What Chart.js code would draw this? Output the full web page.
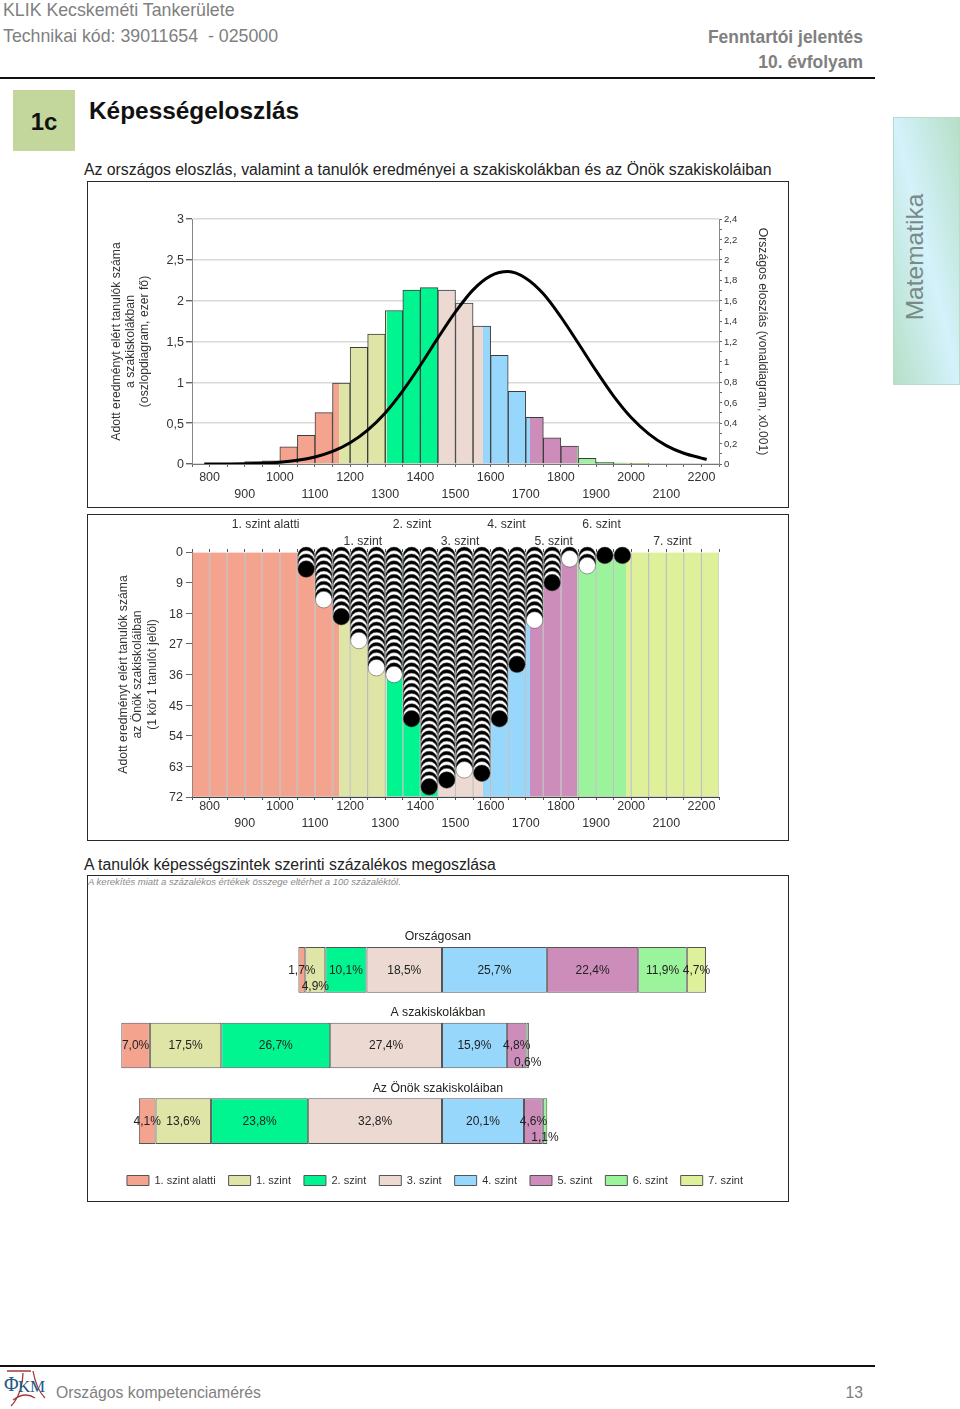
<!DOCTYPE html>
<html>
<head>
<meta charset="utf-8">
<title>Képességeloszlás</title>
<script src="https://cdn.jsdelivr.net/npm/chart.js@4"></script>
<style>
  html, body { margin: 0; padding: 0; background: #fff; }
  body { position: relative; width: 960px; height: 1409px; overflow: hidden; font-family: "Liberation Sans", Arial, sans-serif; }
  .t { position: absolute; white-space: pre; line-height: 20px; }
  .grey { color: #808080; font-size: 17.75px; }
  .right { right: 97px; font-weight: bold; font-size: 17.45px; }
  .rule { position: absolute; left: 0; width: 875px; height: 2px; background: #111; }
  .box { position: absolute; left: 87px; width: 700px; height: 325px; border: 1px solid #2a2a2a; }
  canvas { position: absolute; left: 88px; }
  #tab { position: absolute; left: 893px; top: 117px; width: 67px; height: 268px; box-sizing: border-box; border: 1px solid #b7dcc8;
    background: linear-gradient(to top right, #b6dfc7 0%, #d4f2fb 50%, #b6dfc7 100%); }
  #tabText { position: absolute; left: 915px; top: 257px; transform: translate(-50%, -50%) rotate(-90deg); font-size: 24.5px; color: #7b8a86; white-space: pre; }
</style>
</head>
<body>
<div class="t grey" style="left:3px;top:0px">KLIK Kecskeméti Tankerülete</div>
<div class="t grey" style="left:3px;top:26px">Technikai kód: 39011654  - 025000</div>
<div class="t grey right" style="top:27px">Fenntartói jelentés</div>
<div class="t grey right" style="top:52px">10. évfolyam</div>
<div class="rule" style="top:77px"></div>

<div style="position:absolute;left:13px;top:90px;width:62px;height:61px;background:#c3d69b"></div>
<div class="t" style="left:13px;width:62px;text-align:center;top:111px;line-height:22px;font-size:24px;font-weight:bold;color:#111">1c</div>
<div class="t" style="left:89px;top:100px;line-height:22px;font-size:24.4px;font-weight:bold;color:#111">Képességeloszlás</div>
<div class="t" style="left:84px;top:160px;font-size:15.8px;color:#222">Az országos eloszlás, valamint a tanulók eredményei a szakiskolákban és az Önök szakiskoláiban</div>

<div id="tab"></div>
<div id="tabText">Matematika</div>

<div class="box" style="top:181px"></div>
<canvas id="distChart" width="700" height="324" style="top:182px"></canvas>

<div class="box" style="top:514px"></div>
<canvas id="dotChart" width="700" height="324" style="top:515px"></canvas>

<div class="t" style="left:84px;top:855px;font-size:15.8px;color:#222">A tanulók képességszintek szerinti százalékos megoszlása</div>
<div class="box" style="top:875px"></div>
<div class="t" style="left:88px;top:872px;font-size:9.5px;font-style:italic;color:#8a8a8a">A kerekítés miatt a százalékos értékek összege eltérhet a 100 százaléktól.</div>
<canvas id="shareChart" width="700" height="324" style="top:876px"></canvas>

<div class="rule" style="top:1365px"></div>
<svg style="position:absolute;left:3px;top:1370px" width="48" height="38" viewBox="0 0 48 38">
  <path d="M4 1 H28 M10 30 C18 24 26 24 32 28 M8 36 C16 28 20 14 20 3 M30 1 C32 12 36 22 42 28" fill="none" stroke="#a33a3a" stroke-width="1.3"/>
  <text x="1" y="21" font-family="Liberation Serif" font-size="20" fill="#1d5a86">Φ</text>
  <text x="15" y="22" font-family="Liberation Serif" font-size="17" fill="#1d5a86">K</text>
  <text x="27" y="22" font-family="Liberation Serif" font-size="17" fill="#1d5a86">M</text>
</svg>
<div class="t" style="left:56px;top:1383px;font-size:15.75px;color:#808080">Országos kompetenciamérés</div>
<div class="t" style="right:97px;top:1383px;font-size:15.75px;color:#808080">13</div>

<script>
// szintek (level names, colours and where each one ends on the score axis)
const levelNames = ['1. szint alatti', '1. szint', '2. szint', '3. szint', '4. szint', '5. szint', '6. szint', '7. szint'];
const levelColors = ['#f4a48e', '#dfe5a6', '#00f590', '#ebd9d2', '#97d7fb', '#cc8dbb', '#9bf39b', '#def09a'];
const levelEdges = [750, 1169, 1304, 1449, 1577, 1713, 1846, 1985, 2250];

// score axis labels, two rows
const xTicksUpper = [800, 1000, 1200, 1400, 1600, 1800, 2000, 2200];
const xTicksLower = [900, 1100, 1300, 1500, 1700, 1900, 2100];

// oszlopdiagram: thousands of students per 50 point bin
const binCenters = [825, 875, 925, 975, 1025, 1075, 1125, 1175, 1225, 1275, 1325, 1375, 1425, 1475, 1525, 1575, 1625, 1675, 1725, 1775, 1825, 1875, 1925, 1975, 2025];
const binValues = [0.003, 0.005, 0.03, 0.04, 0.21, 0.35, 0.63, 0.99, 1.43, 1.59, 1.88, 2.13, 2.16, 2.13, 1.97, 1.69, 1.33, 0.89, 0.57, 0.32, 0.22, 0.07, 0.02, 0.012, 0.004];

// vonaldiagram: national distribution (x0.001)
const curveX = [785, 850, 900, 950, 1000, 1050, 1100, 1150, 1200, 1250, 1300, 1350, 1400, 1450, 1500, 1550, 1600, 1650, 1700, 1750, 1800, 1850, 1900, 1950, 2000, 2050, 2100, 2150, 2200, 2215];
const curveY = [0, 0.001, 0.003, 0.008, 0.017, 0.036, 0.069, 0.123, 0.208, 0.332, 0.5, 0.716, 0.967, 1.235, 1.49, 1.706, 1.843, 1.885, 1.82, 1.667, 1.44, 1.18, 0.914, 0.665, 0.455, 0.295, 0.18, 0.105, 0.058, 0.045];

// egy kör egy tanuló: students per bin in the school's own chart
const dotBins = [1075, 1125, 1175, 1225, 1275, 1325, 1375, 1425, 1475, 1525, 1575, 1625, 1675, 1725, 1775, 1825, 1875, 1925, 1975];
const dotCounts = [5, 14, 19, 26, 34, 36, 49, 69, 67, 64, 65, 49, 33, 20, 9, 2, 4, 1, 1];
const bandBins = [775, 825, 875, 925, 975, 1025, 1075, 1125, 1175, 1225, 1275, 1325, 1375, 1425, 1475, 1525, 1575, 1625, 1675, 1725, 1775, 1825, 1875, 1925, 1975, 2025, 2075, 2125, 2175, 2225];

// százalékos megoszlás, one array per group, in level order
const groupNames = ['Országosan', 'A szakiskolákban', 'Az Önök szakiskoláiban'];
const sharesNational = [1.7, 4.9, 10.1, 18.5, 25.7, 22.4, 11.9, 4.7];
const sharesSchools = [7.0, 17.5, 26.7, 27.4, 15.9, 4.8, 0.6, 0];
const sharesOurs = [4.1, 13.6, 23.8, 32.8, 20.1, 4.6, 1.1, 0];
const loweredLabels = ['0-1', '1-6', '2-6']; // group-level pairs whose label sits under the row

Chart.defaults.font.family = '"Liberation Sans", Arial, sans-serif';
Chart.defaults.color = '#333';
Chart.defaults.animation = false;
Chart.defaults.responsive = false;

const comma = v => String(Math.round(v * 10) / 10).replace('.', ',');

// hard edged colour bands across the score axis
function bandFill(ctx) {
  const chart = ctx.chart;
  if (!chart.chartArea) return levelColors[0];
  const s = chart.scales.x;
  const g = chart.ctx.createLinearGradient(s.left, 0, s.right, 0);
  levelColors.forEach((c, i) => {
    g.addColorStop((levelEdges[i] - s.min) / (s.max - s.min), c);
    g.addColorStop((levelEdges[i + 1] - s.min) / (s.max - s.min), c);
  });
  return g;
}

function scoreTick(v) {
  if (xTicksUpper.includes(v)) return [String(v), ''];
  if (xTicksLower.includes(v)) return ['', String(v)];
  return '';
}

// 1. eloszlás
new Chart(document.getElementById('distChart'), {
  data: {
    datasets: [{
      type: 'bar',
      order: 2,
      xAxisID: 'x',
      yAxisID: 'y',
      data: binCenters.map((x, i) => ({ x: x, y: binValues[i] })),
      backgroundColor: bandFill,
      borderColor: '#3c3c3c',
      borderWidth: 1,
      barPercentage: 1,
      categoryPercentage: 1
    }, {
      type: 'line',
      order: 1,
      xAxisID: 'x',
      yAxisID: 'y1',
      data: curveX.map((x, i) => ({ x: x, y: curveY[i] })),
      borderColor: '#000',
      borderWidth: 3,
      pointRadius: 0,
      cubicInterpolationMode: 'monotone'
    }]
  },
  options: {
    layout: { padding: { left: 22, top: 37, right: 19, bottom: 0 } },
    plugins: { legend: { display: false }, tooltip: { enabled: false } },
    scales: {
      x: {
        type: 'linear', min: 750, max: 2250, offset: false,
        afterFit: s => { s.height = 42; },
        border: { color: '#777' },
        grid: { offset: false, drawOnChartArea: false, tickLength: 3, color: '#666' },
        ticks: { stepSize: 50, autoSkip: false, maxRotation: 0, padding: 2, callback: scoreTick, font: { size: 12.5, lineHeight: 1.36 } }
      },
      y: {
        min: 0, max: 3,
        afterFit: s => { s.width = 82; },
        border: { color: '#888' },
        grid: { color: '#d9d9d9', lineWidth: 1.4, tickColor: '#666', tickLength: 6 },
        ticks: { stepSize: 0.5, padding: 2, labelOffset: 1, callback: comma, font: { size: 12.5 } },
        title: { display: true, padding: 0, text: ['Adott eredményt elért tanulók száma', 'a szakiskolákban', '(oszlopdiagram, ezer fő)'], font: { size: 12.2, lineHeight: 1.15 } }
      },
      y1: {
        position: 'right', min: 0, max: 2.4,
        afterFit: s => { s.width = 50; },
        border: { color: '#888' },
        grid: { drawOnChartArea: false, tickLength: 3, color: '#666' },
        ticks: { stepSize: 0.1, autoSkip: false, padding: 2, labelOffset: 0.5, font: { size: 9.5 }, callback: v => Math.round(v * 10) % 2 === 0 ? comma(v) : '' },
        title: { display: true, padding: 0, text: 'Országos eloszlás (vonaldiagram, x0.001)', font: { size: 12.2, lineHeight: 1.15 } }
      }
    }
  }
});

// 2. az Önök tanulói, one circle per student stacked down from the top
const dots = [];
dotBins.forEach((x, i) => {
  for (let n = 1; n <= dotCounts[i]; n++) dots.push({ x: x, y: n });
});
const levelCenters = levelNames.map((_, i) => (levelEdges[i] + levelEdges[i + 1]) / 2);

new Chart(document.getElementById('dotChart'), {
  data: {
    datasets: [{
      type: 'bar',
      order: 2,
      xAxisID: 'x',
      yAxisID: 'y',
      data: bandBins.map(x => ({ x: x, y: 72 })),
      backgroundColor: bandFill,
      borderColor: 'rgba(110,110,110,0.35)',
      borderWidth: 1,
      barPercentage: 1,
      categoryPercentage: 1
    }, {
      type: 'scatter',
      order: 1,
      clip: false,
      xAxisID: 'x',
      yAxisID: 'y',
      data: dots,
      pointRadius: 8.3,
      pointBorderWidth: 0.5,
      pointBorderColor: '#444',
      pointBackgroundColor: ctx => ctx.raw && ctx.raw.y % 2 === 0 ? '#fff' : '#000'
    }]
  },
  options: {
    layout: { padding: { left: 28, top: 0, right: 69, bottom: 0 } },
    plugins: { legend: { display: false }, tooltip: { enabled: false } },
    scales: {
      x: {
        type: 'linear', min: 750, max: 2250, offset: false,
        afterFit: s => { s.height = 42; },
        border: { color: '#444' },
        grid: { offset: false, drawOnChartArea: false, tickLength: 3, color: '#555' },
        ticks: { stepSize: 50, autoSkip: false, maxRotation: 0, padding: -2, callback: scoreTick, font: { size: 12.5, lineHeight: 1.36 } }
      },
      levels: {
        type: 'linear', position: 'top', axis: 'x', min: 750, max: 2250, offset: false,
        afterFit: s => { s.height = 37; },
        afterBuildTicks: s => {
          const marks = bandBins.map(x => x - 25).concat([2250], levelCenters);
          s.ticks = marks.sort((a, b) => a - b).map(v => ({ value: v }));
        },
        border: { display: false },
        grid: { offset: false, drawOnChartArea: false, tickLength: 3, tickColor: ctx => ctx.tick && ctx.tick.value % 50 === 0 ? '#555' : 'rgba(0,0,0,0)' },
        ticks: {
          autoSkip: false, maxRotation: 0, padding: -1, font: { size: 12.2, lineHeight: 1.39 },
          callback: v => {
            const i = levelCenters.indexOf(v);
            if (i < 0) return '';
            return i % 2 === 0 ? [levelNames[i], ''] : ['', levelNames[i]];
          }
        }
      },
      y: {
        min: 0, max: 72, reverse: true,
        afterFit: s => { s.width = 76; },
        border: { color: '#777' },
        grid: { drawOnChartArea: false, tickLength: 6, color: '#666' },
        ticks: { stepSize: 9, padding: 3, labelOffset: 1, font: { size: 12.5 } },
        title: { display: true, padding: 0, text: ['Adott eredményt elért tanulók száma', 'az Önök szakiskoláiban', '(1 kör 1 tanulót jelöl)'], font: { size: 12.2, lineHeight: 1.2 } }
      }
    }
  }
});

// 3. százalékos megoszlás: 3. szint and below run left of zero, 4. szint and above run right
const shareGroups = [sharesNational, sharesSchools, sharesOurs];
const drawOrder = [3, 2, 1, 0, 4, 5, 6, 7];

const shareLabels = {
  id: 'shareLabels',
  afterLayout(chart) {
    chart.legend.top += 3;
  },
  afterDatasetsDraw(chart) {
    const c = chart.ctx;
    c.save();
    c.fillStyle = '#222';
    c.textAlign = 'center';
    c.textBaseline = 'middle';
    c.font = '12px "Liberation Sans"';
    chart.data.datasets.forEach((ds, d) => {
      const level = drawOrder[d];
      chart.getDatasetMeta(d).data.forEach((bar, g) => {
        const v = shareGroups[g][level];
        if (!v) return;
        const low = loweredLabels.includes(g + '-' + level) ? 16.5 : 0;
        c.fillText(v.toFixed(1).replace('.', ',') + '%', (bar.x + bar.base) / 2, bar.y + 0.5 + low);
      });
    });
    c.font = '12.3px "Liberation Sans"';
    const first = chart.getDatasetMeta(0).data;
    groupNames.forEach((name, g) => {
      c.fillText(name, chart.scales.x.getPixelForValue(-1), first[g].y - first[g].height / 2 - 10);
    });
    c.restore();
  }
};

new Chart(document.getElementById('shareChart'), {
  type: 'bar',
  plugins: [shareLabels],
  data: {
    labels: groupNames,
    datasets: drawOrder.map(level => ({
      label: levelNames[level],
      data: shareGroups.map(g => g[level] ? (level <= 3 ? -g[level] : g[level]) : null),
      backgroundColor: levelColors[level],
      borderColor: '#555',
      borderWidth: 1,
      borderSkipped: false,
      barPercentage: 0.603,
      categoryPercentage: 1
    }))
  },
  options: {
    indexAxis: 'y',
    layout: { padding: { left: 12, top: 56, right: 18, bottom: 7 } },
    plugins: {
      tooltip: { enabled: false },
      legend: {
        position: 'bottom',
        labels: {
          boxWidth: 22, boxHeight: 10, padding: 13, color: '#333', font: { size: 11 },
          sort: (a, b) => levelNames.indexOf(a.text) - levelNames.indexOf(b.text)
        }
      }
    },
    scales: {
      x: { display: false, stacked: true, min: -83.82, max: 80.39 },
      y: { display: false, stacked: true }
    }
  }
});
</script>
</body>
</html>
